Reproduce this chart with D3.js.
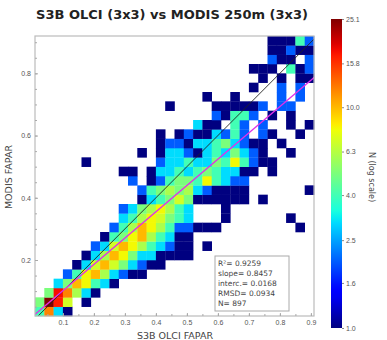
<!DOCTYPE html>
<html><head><meta charset="utf-8">
<script src="https://cdn.jsdelivr.net/npm/d3@7"></script>
<style>body{margin:0;background:#fff}svg{display:block;font-family:"DejaVu Sans",sans-serif}</style>
</head><body><svg id="c" width="387" height="340"></svg>
<script>
// ---------- data ----------
const title = "S3B OLCI (3x3) vs MODIS 250m (3x3)";
const xLabel = "S3B OLCI FAPAR";
const yLabel = "MODIS FAPAR";
const cbLabel = "N (log scale)";
const xDomain = [0.01, 0.91];
const yDomain = [0.02, 0.92];
const nBins = 30;
const xTicks = [0.1,0.2,0.3,0.4,0.5,0.6,0.7,0.8,0.9];
const yTicks = [0.2,0.4,0.6,0.8];
const cbTicks = [1.0,1.6,2.5,4.0,6.3,10.0,15.8,25.1];
const cbDomain = [1, 25.1];
const statLines = ["R\u00B2= 0.9259","slope= 0.8457","interc.= 0.0168","RMSD= 0.0934","N= 897"];
const fitSlope = 0.8457, fitIntercept = 0.0168;
// counts per bin, row j (bottom -> top), column i (left -> right)
const counts = [
 [4,12,3,1,0,0,0,0,0,0, 0,0,0,0,0,0,0,0,0,0, 0,0,0,0,0,0,0,0,0,0],
 [5,25,17,7,0,1,0,0,0,0, 0,0,0,0,0,0,0,0,0,0, 0,0,0,0,0,0,0,0,0,0],
 [0,5,18,12,6,3,1,0,0,0, 0,0,0,0,0,0,0,0,0,0, 0,0,0,0,0,0,0,0,0,0],
 [0,0,3,5,10,8,4,3,1,0, 0,0,0,0,0,0,0,0,0,0, 0,0,0,0,0,0,0,0,0,0],
 [0,0,0,2,4,8,10,6,3,2, 1,1,0,0,0,0,0,0,0,0, 0,0,0,0,0,0,0,0,0,0],
 [0,0,0,0,1,3,7,10,7,5, 3,2,1,1,0,0,0,0,0,0, 0,0,0,0,0,0,0,0,0,0],
 [0,0,0,0,0,1,3,6,10,8, 5,3,3,1,1,1,1,0,0,0, 0,0,0,0,0,0,0,0,0,0],
 [0,0,0,0,0,0,2,3,7,10, 8,6,4,3,2,1,1,0,1,0, 0,0,0,0,0,0,0,0,0,0],
 [0,0,0,0,0,0,0,1,4,5, 8,10,6,4,3,1,1,0,0,0, 0,0,0,0,0,0,0,0,0,0],
 [0,0,0,0,0,0,0,0,2,4, 6,10,8,6,4,2,2,1,1,1, 0,0,0,0,0,0,0,0,1,0],
 [0,0,0,0,0,0,0,0,0,3, 4,6,8,7,5,4,3,0,0,0, 1,0,0,0,0,0,0,1,0,0],
 [0,0,0,0,0,0,0,0,0,2, 3,5,6,8,6,4,3,0,0,0, 1,0,0,0,0,0,0,0,0,0],
 [0,0,0,0,0,0,0,0,0,0, 0,1,3,4,5,7,5,1,1,1, 1,1,1,0,1,0,0,0,0,0],
 [0,0,0,0,0,0,0,0,0,0, 0,2,4,5,6,5,6,3,2,1, 1,1,1,0,0,0,0,0,0,1],
 [0,0,0,0,0,0,0,0,0,0, 2,0,1,2,4,5,5,4,8,4, 3,2,2,0,0,0,0,0,0,0],
 [0,0,0,0,0,0,0,0,0,1, 1,0,1,3,3,4,3,4,5,4, 3,3,1,1,0,1,0,0,0,0],
 [0,0,0,0,0,1,0,0,0,0, 0,0,0,2,3,3,4,3,3,5, 4,8,4,2,1,1,0,0,0,0],
 [0,0,0,0,0,0,0,0,0,0, 0,1,0,1,3,3,2,1,3,4, 3,5,3,2,1,0,0,1,0,0],
 [0,0,0,0,0,0,0,0,0,0, 0,0,0,1,2,2,1,3,3,4, 5,3,2,1,1,0,1,0,0,0],
 [0,0,0,0,0,0,0,0,0,0, 0,0,0,1,0,1,2,1,1,3, 2,4,2,0,2,1,0,0,1,0],
 [0,0,0,0,0,0,0,0,0,0, 0,0,0,0,0,0,0,3,1,1, 0,4,2,0,2,0,0,1,0,1],
 [0,0,0,0,0,0,0,0,0,0, 0,0,0,0,0,0,0,0,0,2, 1,4,4,2,0,1,0,1,0,0],
 [0,0,0,0,0,0,0,0,0,0, 0,0,0,0,1,0,0,0,0,1, 1,1,1,1,2,0,2,2,0,0],
 [0,0,0,0,0,0,0,0,0,0, 0,0,0,0,0,0,0,0,1,0, 0,1,0,0,0,0,2,0,2,0],
 [0,0,0,0,0,0,0,0,0,0, 0,0,0,0,0,0,0,0,0,0, 0,0,0,1,0,0,2,0,2,0],
 [0,0,0,0,0,0,0,0,0,0, 0,0,0,0,0,0,0,0,0,0, 0,0,0,0,1,0,1,0,1,1],
 [0,0,0,0,0,0,0,0,0,0, 0,0,0,0,0,0,0,0,0,0, 0,0,0,1,1,1,0,4,1,2],
 [0,0,0,0,0,0,0,0,0,0, 0,0,0,0,0,0,0,0,0,0, 0,0,0,0,0,2,1,1,0,2],
 [0,0,0,0,0,0,0,0,0,0, 0,0,0,0,0,0,0,0,0,0, 0,0,0,0,0,1,1,2,1,1],
 [0,0,0,0,0,0,0,0,0,0, 0,0,0,0,0,0,0,0,0,0, 0,0,0,0,0,1,1,1,4,2]
];

// ---------- layout ----------
const P = {l:35, t:36, r:314, b:316};
const svg = d3.select("#c");
const x = d3.scaleLinear().domain(xDomain).range([P.l, P.r]);
const y = d3.scaleLinear().domain(yDomain).range([P.b, P.t]);
const xEdges = d3.range(nBins+1).map(i => xDomain[0] + i*(xDomain[1]-xDomain[0])/nBins);
const yEdges = d3.range(nBins+1).map(j => yDomain[0] + j*(yDomain[1]-yDomain[0])/nBins);

// matplotlib jet
const jr = d3.scaleLinear().domain([0,0.35,0.66,0.89,1]).range([0,0,1,1,0.5]).clamp(true);
const jg = d3.scaleLinear().domain([0,0.125,0.375,0.64,0.91,1]).range([0,0,1,1,0,0]).clamp(true);
const jb = d3.scaleLinear().domain([0,0.11,0.34,0.65,1]).range([0.5,1,1,0,0]).clamp(true);
const jet = t => d3.rgb(jr(t)*255, jg(t)*255, jb(t)*255).toString();
const cnorm = d3.scaleLog().domain(cbDomain).range([0,1]).clamp(true);

// cells
const cells = [];
counts.forEach((row, j) => row.forEach((v, i) => { if (v > 0) cells.push({i, j, v}); }));
svg.append("g").selectAll("rect").data(cells).join("rect")
  .attr("x", d => x(xEdges[d.i]))
  .attr("y", d => y(yEdges[d.j+1]))
  .attr("width", d => x(xEdges[d.i+1]) - x(xEdges[d.i]) + 0.3)
  .attr("height", d => y(yEdges[d.j]) - y(yEdges[d.j+1]) + 0.3)
  .attr("fill", d => jet(cnorm(d.v)));

// lines
svg.append("clipPath").attr("id","pc").append("rect")
  .attr("x",P.l).attr("y",P.t).attr("width",P.r-P.l).attr("height",P.b-P.t);
const lg = svg.append("g").attr("clip-path","url(#pc)");
lg.append("line").attr("x1",x(0)).attr("y1",y(0)).attr("x2",x(1)).attr("y2",y(1))
  .attr("stroke","#222").attr("stroke-width",0.9);
lg.append("line").attr("x1",x(0)).attr("y1",y(fitIntercept)).attr("x2",x(1)).attr("y2",y(fitIntercept+fitSlope))
  .attr("stroke","#e030e8").attr("stroke-width",1.3);

// frame
svg.append("rect").attr("x",P.l).attr("y",P.t).attr("width",P.r-P.l).attr("height",P.b-P.t)
  .attr("fill","none").attr("stroke","#bbb").attr("stroke-width",1.2);

// axes
const styleAxis = g => { g.select(".domain").remove(); g.selectAll("line").attr("stroke","#aaa");
  g.selectAll("text").attr("fill","#555").style("font-size","7px"); };
const minor = d3.range(0.05, 0.91, 0.05);
svg.append("g").attr("transform",`translate(0,${P.b})`)
  .call(d3.axisBottom(x).tickValues(minor).tickSize(-2).tickFormat("")).call(styleAxis);
svg.append("g").attr("transform",`translate(0,${P.b})`)
  .call(d3.axisBottom(x).tickValues(xTicks).tickSize(-3).tickPadding(4).tickFormat(d3.format(".1f"))).call(styleAxis);
svg.append("g").attr("transform",`translate(${P.l},0)`)
  .call(d3.axisLeft(y).tickValues(minor.filter(v=>v>0.02)).tickSize(-2).tickFormat("")).call(styleAxis);
svg.append("g").attr("transform",`translate(${P.l},0)`)
  .call(d3.axisLeft(y).tickValues(yTicks).tickSize(-3).tickPadding(4).tickFormat(d3.format(".1f"))).call(styleAxis);

// titles
svg.append("text").attr("x",172).attr("y",19).attr("text-anchor","middle")
  .style("font-size","13px").style("font-weight","bold").attr("fill","#222").text(title);
svg.append("text").attr("x",175).attr("y",339).attr("text-anchor","middle")
  .style("font-size","9.5px").attr("fill","#444").text(xLabel);
svg.append("text").attr("transform","translate(12,177) rotate(-90)").attr("text-anchor","middle")
  .style("font-size","9.5px").attr("fill","#444").text(yLabel);

// stats box
const bx = 215, by = 256;
svg.append("rect").attr("x",bx).attr("y",by).attr("width",74).attr("height",55)
  .attr("fill","#fff").attr("stroke","#aaa").attr("stroke-width",1);
svg.append("g").selectAll("text").data(statLines).join("text")
  .attr("x",bx+3).attr("y",(d,i)=>by+10+i*9.9)
  .style("font-size","7.5px").attr("fill","#444").text(d=>d);

// colorbar
const cb = {x:331, w:11, t:19, b:328};
const cy = d3.scaleLog().domain(cbDomain).range([cb.b, cb.t]);
const grad = svg.append("defs").append("linearGradient").attr("id","jg")
  .attr("x1",0).attr("y1",1).attr("x2",0).attr("y2",0);
d3.range(0,1.0001,0.02).forEach(t => grad.append("stop").attr("offset",t).attr("stop-color",jet(t)));
svg.append("rect").attr("x",cb.x).attr("y",cb.t).attr("width",cb.w).attr("height",cb.b-cb.t)
  .attr("fill","url(#jg)");
const cbAxis = svg.append("g").attr("transform",`translate(${cb.x+cb.w},0)`)
  .call(d3.axisRight(cy).tickValues(cbTicks).tickSize(2).tickPadding(2).tickFormat(d3.format(".1f")));
cbAxis.select(".domain").remove();
cbAxis.selectAll("line").attr("stroke","#888");
cbAxis.selectAll("text").attr("fill","#555").style("font-size","7px");
svg.append("text").attr("transform","translate(369,177) rotate(90)").attr("text-anchor","middle")
  .style("font-size","8px").attr("fill","#444").text(cbLabel);
</script></body></html>
